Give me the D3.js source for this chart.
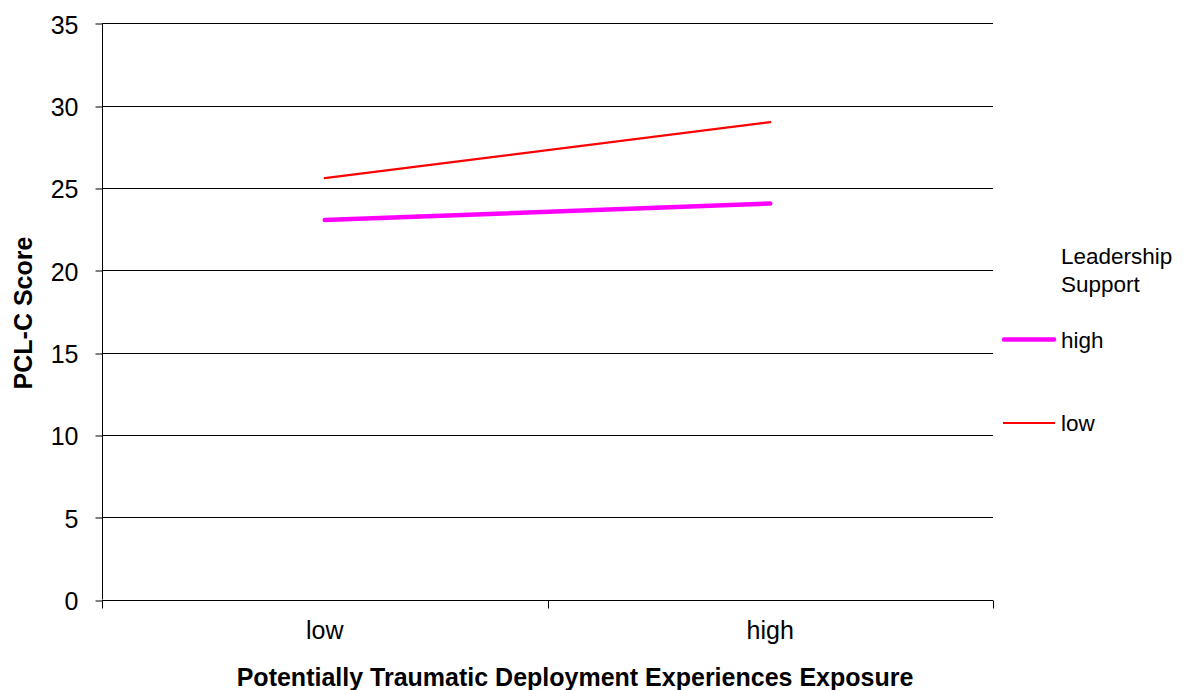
<!DOCTYPE html>
<html>
<head>
<meta charset="utf-8">
<script src="https://cdn.jsdelivr.net/npm/d3@7"></script>
<style>
  html, body { margin: 0; padding: 0; background: #fff; }
  svg { display: block; font-family: "Liberation Sans", Arial, sans-serif; }
</style>
</head>
<body>
<svg id="chart" width="1189" height="690"></svg>
<script>
// Exposure levels on the x axis
const categories = ["low", "high"];
// Leadership support groups (legend order)
const seriesNames = ["high", "low"];
const seriesColors = ["#ff00ff", "#ff0000"];
const seriesWidths = [4.5, 2.2];
// PCL-C scores per group, low → high exposure
const highSupport = [23.05, 24.05];
const lowSupport = [25.6, 29.0];
const yTicks = [0, 5, 10, 15, 20, 25, 30, 35];

const svg = d3.select("#chart");
const plotLeft = 102, plotRight = 993, plotTop = 23.3, plotBottom = 599.5;

const x = d3.scaleBand().domain(categories).range([plotLeft, plotRight]);
const y = d3.scaleLinear().domain([0, 35]).range([plotBottom, plotTop]);

// horizontal gridlines
svg.append("g").selectAll("line").data(yTicks).join("line")
  .attr("x1", plotLeft).attr("x2", plotRight)
  .attr("y1", d => Math.round(y(d)) + 0.5).attr("y2", d => Math.round(y(d)) + 0.5)
  .attr("stroke", "#000").attr("stroke-width", 1);

// y axis
const yAxis = svg.append("g").attr("transform", `translate(${plotLeft + 0.5},0)`)
  .call(d3.axisLeft(y).tickValues(yTicks).tickSize(7).tickPadding(17).tickSizeOuter(0));
yAxis.select(".domain").remove();
yAxis.append("line").attr("y1", y(35)).attr("y2", y(0)).attr("stroke", "#000");
yAxis.selectAll(".tick line").attr("transform", d => `translate(0,${Math.round(y(d)) + 0.5 - y(d)})`);
yAxis.selectAll("text").attr("font-size", 25).attr("fill", "#000").attr("dy", "0.4em")
  .attr("font-family", "'Liberation Sans', Arial, sans-serif");

// x axis
const xAxis = svg.append("g").attr("transform", `translate(0,${Math.round(plotBottom) + 0.5})`);
xAxis.append("line").attr("x1", plotLeft).attr("x2", plotRight).attr("stroke", "#000");
const tickXs = [plotLeft, plotLeft + x.bandwidth(), plotRight];
xAxis.selectAll("line.tk").data(tickXs).join("line").attr("class", "tk")
  .attr("x1", d => Math.round(d) + 0.5).attr("x2", d => Math.round(d) + 0.5)
  .attr("y1", 0).attr("y2", 8).attr("stroke", "#000");
xAxis.selectAll("text").data(categories).join("text")
  .attr("x", d => x(d) + x.bandwidth() / 2).attr("y", 38)
  .attr("text-anchor", "middle").attr("font-size", 25).text(d => d);

// series lines
const data = [highSupport, lowSupport];
const line = d3.line().x((d, i) => x(categories[i]) + x.bandwidth() / 2).y(d => y(d));
svg.append("g").selectAll("path").data(data).join("path")
  .attr("d", d => line(d)).attr("fill", "none")
  .attr("stroke", (d, i) => seriesColors[i])
  .attr("stroke-width", (d, i) => seriesWidths[i])
  .attr("stroke-linecap", "round");

// axis titles
svg.append("text").attr("x", 575).attr("y", 686).attr("text-anchor", "middle")
  .attr("font-size", 25).attr("font-weight", "bold")
  .text("Potentially Traumatic Deployment Experiences Exposure");
svg.append("text").attr("transform", "translate(32,313) rotate(-90)")
  .attr("text-anchor", "middle").attr("font-size", 25).attr("font-weight", "bold")
  .text("PCL-C Score");

// legend
const legend = svg.append("g").attr("font-size", 22.5);
legend.append("text").attr("x", 1061).attr("y", 263.5).text("Leadership");
legend.append("text").attr("x", 1061).attr("y", 292).text("Support");
const legendY = [339.5, 423];
seriesNames.forEach((name, i) => {
  legend.append("line").attr("x1", i === 0 ? 1004 : 1003).attr("x2", i === 0 ? 1054 : 1055)
    .attr("y1", legendY[i]).attr("y2", legendY[i])
    .attr("stroke", seriesColors[i]).attr("stroke-width", seriesWidths[i])
    .attr("stroke-linecap", i === 0 ? "round" : "butt");
  legend.append("text").attr("x", 1061).attr("y", legendY[i] + 8).text(name);
});
</script>
</body>
</html>
